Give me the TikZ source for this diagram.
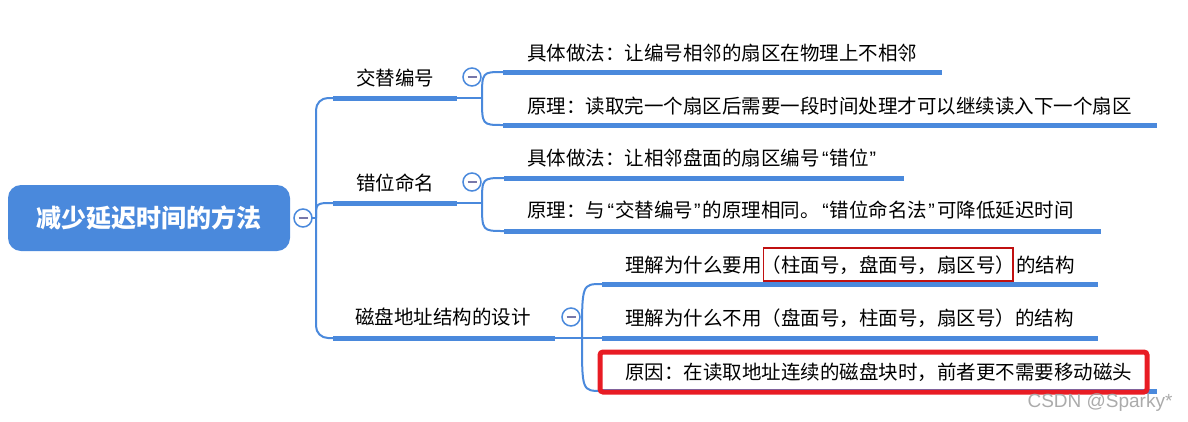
\documentclass[tikz,border=0pt]{standalone}
\usepackage{fontspec}
\usetikzlibrary{positioning}
\newfontfamily\cjk{Noto Sans CJK SC}
\newfontfamily\wmfont{Liberation Sans}
\newcommand\openq{{\wmfont\kern2.5pt“\kern1pt}}
\newcommand\closeq{{\wmfont\kern1pt”\kern2.5pt}}
\definecolor{mapblue}{RGB}{74,137,220}
\definecolor{foldmark}{RGB}{120,120,170}
\definecolor{hotred}{RGB}{232,28,36}
\definecolor{darkred}{RGB}{192,16,16}

\begin{document}
\begin{tikzpicture}[x=1pt, y=-1pt, font=\cjk\fontsize{19.5}{23}\selectfont,
  every node/.style={inner sep=0pt, outer sep=0pt},
  link/.style={draw=mapblue, line width=2pt},
  bar/.style={rectangle, fill=mapblue, minimum height=5pt, anchor=west},
  topic/.style={anchor=base},
  leaf/.style={anchor=base west},
  root/.style={rectangle, rounded corners=13pt, fill=mapblue, text=white, minimum width=282pt, minimum height=66pt, font=\cjk\bfseries\fontsize{25}{30}\selectfont},
  fold/.style={circle, draw=mapblue, line width=1.5pt, fill=white, minimum size=18pt,
    path picture={\draw[foldmark, line width=1.5pt] ([xshift=-4.5pt]path picture bounding box.center) -- ([xshift=4.5pt]path picture bounding box.center);}},
  hlbox/.style={draw=darkred, line width=1.6pt, minimum height=33pt, inner xsep=-2pt},
  hotbox/.style={draw=hotred, line width=5pt, rounded corners=3pt}]
  \useasboundingbox (0,0) rectangle (1188,421);
  % --- root ---
  \node[root] (r) at (149,218) {减少延迟时间的方法};
  \node[fold] (f0) at (303,218) {};
  \coordinate (sp) at (316,218);
  % --- 交替编号 ---
  \node[bar, minimum width=124pt] (b1) at (333,98) {};
  \node[topic] (t1) at (395,85) {交替编号};
  \node[fold] (f1) at (472,77) {};
  \coordinate (k1) at (482,98);
  \node[bar, minimum width=439pt] (b11) at (503,72) {};
  \node[leaf] (t11) at (527,60) {具体做法：让编号相邻的扇区在物理上不相邻};
  \node[bar, minimum width=654pt] (b12) at (503,125) {};
  \node[leaf] (t12) at (527,113) {原理：读取完一个扇区后需要一段时间处理才可以继续读入下一个扇区};
  % --- 错位命名 ---
  \node[bar, minimum width=124pt] (b2) at (333,203) {};
  \node[topic] (t2) at (395,190) {错位命名};
  \node[fold] (f2) at (472,182) {};
  \coordinate (k2) at (482,203);
  \node[bar, minimum width=400pt] (b21) at (504,178) {};
  \node[leaf] (t21) at (527,165) {具体做法：让相邻盘面的扇区编号\openq 错位\closeq};
  \node[bar, minimum width=597pt] (b22) at (504,231) {};
  \node[leaf] (t22) at (527,217) {原理：与\openq 交替编号\closeq 的原理相同。\openq 错位命名法\closeq 可降低延迟时间};
  % --- 磁盘地址结构的设计 ---
  \node[bar, minimum width=222pt] (b3) at (333,338) {};
  \node[topic] (t3) at (443,324) {磁盘地址结构的设计};
  \node[fold] (f3) at (571,317) {};
  \coordinate (k3) at (582,338);
  \node[bar, minimum width=496pt] (b31) at (602,284) {};
  \node[leaf] (t31a) at (625,272) {理解为什么要用};
  \node[hlbox, base right=2pt of t31a] (t31b) {（柱面号，盘面号，扇区号）};
  \node[base right=3pt of t31b] (t31c) {的结构};
  \node[bar, minimum width=496pt] (b32) at (602,338) {};
  \node[leaf] (t32) at (625,325) {理解为什么不用（盘面号，柱面号，扇区号）的结构};
  \node[bar, minimum width=555pt] (b33) at (602,391) {};
  \node[leaf] (t33) at (625,379) {原因：在读取地址连续的磁盘块时，前者更不需要移动磁头};
  % --- connectors ---
  \draw[link] (f0) -- (sp);
  \draw[link, rounded corners=12pt] (b1.west) -| (sp) |- (b3.west);
  \draw[link] (sp) .. controls (sp |- b2.west) .. (b2.west);
  \draw[link] (b1.east) -- (k1);
  \draw[link] (k1) .. controls (k1 |- b11.west) .. (b11.west);
  \draw[link] (k1) .. controls (k1 |- b12.west) .. (b12.west);
  \draw[link] (b2.east) -- (k2);
  \draw[link] (k2) .. controls (k2 |- b21.west) .. (b21.west);
  \draw[link] (k2) .. controls (k2 |- b22.west) .. (b22.west);
  \draw[link] (b3.east) -- (k3);
  \draw[link] (k3) .. controls (k3 |- b31.west) .. (b31.west);
  \draw[link] (k3) -- (b32.west);
  \draw[link] (k3) .. controls (k3 |- b33.west) .. (b33.west);
  \draw[hotbox] (600,352) rectangle (1147,392);
  \node[anchor=base, text=black!33, font=\wmfont\fontsize{19}{22}\selectfont] (wm) at (1100,407) {CSDN @Sparky*};
\end{tikzpicture}
\end{document}
